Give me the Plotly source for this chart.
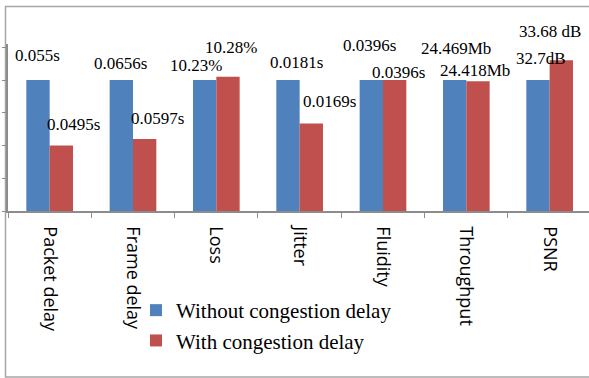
import plotly.graph_objects as go

# Metrics compared with and without the congestion delay
categories = ["Packet delay", "Frame delay", "Loss", "Jitter", "Fluidity", "Throughput", "PSNR"]
without_vals = [0.055, 0.0656, 10.23, 0.0181, 0.0396, 24.469, 32.7]
with_vals = [0.0495, 0.0597, 10.28, 0.0169, 0.0396, 24.418, 33.68]
without_labels = ["0.055s", "0.0656s", "10.23%", "0.0181s", "0.0396s", "24.469Mb", "32.7dB"]
with_labels = ["0.0495s", "0.0597s", "10.28%", "0.0169s", "0.0396s", "24.418Mb", "33.68 dB"]

# Each metric is normalised to its value without the congestion delay
norm_without = [w / w for w in without_vals]
norm_with = [c / w for c, w in zip(with_vals, without_vals)]

BLUE = "#4F81BD"
RED = "#C0504D"
GREY = "#8C8C8C"
SERIF = "Liberation Serif"

W, H = 589, 378
L, R, T, B = 8, 0, 44, 167

fig = go.Figure()
fig.add_trace(go.Bar(x=categories, y=norm_without, name="Without congestion delay",
                     marker=dict(color=BLUE, line=dict(width=0))))
fig.add_trace(go.Bar(x=categories, y=norm_with, name="With congestion delay",
                     marker=dict(color=RED, line=dict(width=0))))

# Hand-placed value labels (pixel nudges from the top of each bar)
off = 0.14
without_nudge = [(-0.5, 25), (-1, 17), (-9, 15), (9, 18), (-2, 35), (1, 32), (3, 22)]
with_nudge = [(12, 21), (13, 20), (3, 29), (18, 22), (4, 8), (-3, 11), (-11, 29)]
annotations = []
for i in range(len(categories)):
    for val, txt, (dx, dy), sx in ((norm_without[i], without_labels[i], without_nudge[i], -off),
                                  (norm_with[i], with_labels[i], with_nudge[i], off)):
        annotations.append(dict(x=i + sx, y=val, xref="x", yref="y", text=txt,
                                showarrow=False, xanchor="center", yanchor="middle",
                                xshift=dx, yshift=dy,
                                font=dict(family=SERIF, size=17, color="black")))

plot_w = W - L - R
plot_h = H - T - B
def px_x(x):
    return (x - L) / plot_w
def px_y(y):
    return (H - B - y) / plot_h

fig.update_layout(
    width=W, height=H,
    margin=dict(l=L, r=R, t=T, b=B, pad=0),
    paper_bgcolor="white", plot_bgcolor="white",
    barmode="group", bargap=0.44, bargroupgap=0,
    showlegend=True,
    legend=dict(x=px_x(136), y=px_y(290), xanchor="left", yanchor="top",
                orientation="v", bgcolor="rgba(0,0,0,0)",
                font=dict(family=SERIF, size=21, color="black"),
                traceorder="normal"),
    annotations=annotations,
    shapes=[dict(type="rect", xref="paper", yref="paper",
                 x0=px_x(5.5), x1=px_x(595), y0=px_y(377), y1=px_y(6.5),
                 line=dict(color="#A6A6A6", width=1.5), fillcolor="rgba(0,0,0,0)", layer="below")],
)

fig.update_xaxes(
    type="category", range=[-0.5, -0.5 + plot_w / 83.33],
    showline=True, linecolor=GREY, linewidth=1.5,
    ticks="outside", ticklen=5, tickcolor=GREY, tickson="boundaries",
    tickangle=90, ticklabelstandoff=10,
    tickfont=dict(family="Open Sans", size=18, color="black"),
    showgrid=False, zeroline=False,
)
fig.update_yaxes(
    range=[0.8, 0.8 + plot_h / 655.0],
    showline=True, linecolor=GREY, linewidth=1.5,
    ticks="outside", ticklen=4, tickcolor=GREY,
    tick0=0.8, dtick=0.05, showticklabels=False,
    showgrid=False, zeroline=False,
)

fig.write_html("out.html")
